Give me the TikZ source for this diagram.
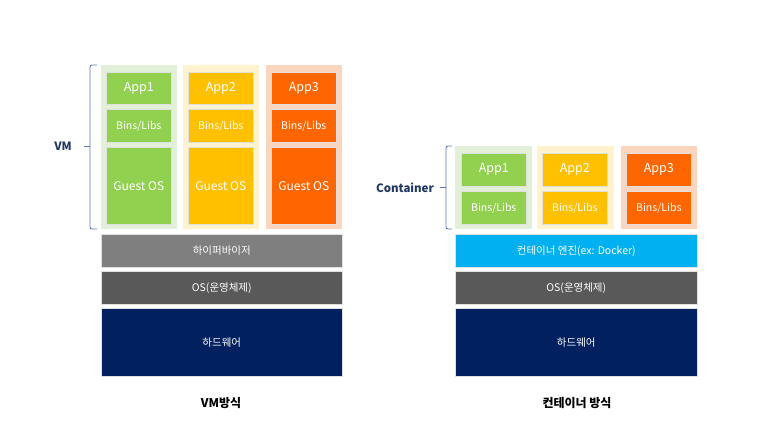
\documentclass[tikz,border=0pt]{standalone}
\usepackage{fontspec}
\setmainfont{Noto Sans CJK KR}
\definecolor{gbg}{HTML}{E2F0D9}
\definecolor{gfg}{HTML}{92D050}
\definecolor{ybg}{HTML}{FFF2CC}
\definecolor{yfg}{HTML}{FFC000}
\definecolor{obg}{HTML}{FBD5BD}
\definecolor{ofg}{HTML}{FF6600}
\definecolor{hyp}{HTML}{7F7F7F}
\definecolor{osc}{HTML}{595959}
\definecolor{hw}{HTML}{002060}
\definecolor{eng}{HTML}{00B0F0}
\definecolor{navy}{HTML}{1F3864}
\definecolor{brc}{HTML}{5B7BB5}
\tikzset{
  blk/.style={draw=white!88!black, line width=0.6pt, text=white, inner sep=0pt, anchor=north west},
  bgbox/.style={inner sep=0pt, anchor=north west},
  apptxt/.style={font=\fontsize{12.5}{14}\selectfont},
  libtxt/.style={font=\fontsize{10.5}{12}\selectfont},
  ostxt/.style={font=\fontsize{12}{14}\selectfont},
  kortxt/.style={font=\fontsize{10.5}{12}\selectfont},
  bracepath/.style={draw=brc, line width=0.9pt, rounded corners=2pt},
  sidelbl/.style={text=navy, font=\bfseries\fontsize{11.5}{13}\selectfont},
  caption/.style={text=black, font=\bfseries\fontsize{12}{14}\selectfont}
}
\newcommand{\bx}[7]{% name, x1, y1, x2, y2, style/colour, text
  \node[#6, minimum width={(#4-#2)*1pt}, minimum height={(#5-#3)*1pt}] (#1) at (#2,#3) {#7};}
\begin{document}
\begin{tikzpicture}[x=1pt,y=-1pt]
\useasboundingbox[fill=white] (0,0) rectangle (768,432);
% ---------------- VM side ----------------
\bx{vbg1}{101}{65}{177}{229}{bgbox,fill=gbg}{}
\bx{vbg2}{183}{65}{259}{229}{bgbox,fill=ybg}{}
\bx{vbg3}{266}{65}{342}{229}{bgbox,fill=obg}{}
\bx{va1}{106}{72}{171}{104}{blk,fill=gfg,apptxt}{App1}
\bx{vb1}{106}{109}{171}{142}{blk,fill=gfg,libtxt}{Bins/Libs}
\bx{vg1}{106}{147}{171}{224}{blk,fill=gfg,ostxt}{Guest OS}
\bx{va2}{188}{72}{253}{104}{blk,fill=yfg,apptxt}{App2}
\bx{vb2}{188}{109}{253}{142}{blk,fill=yfg,libtxt}{Bins/Libs}
\bx{vg2}{188}{147}{253}{224}{blk,fill=yfg,ostxt}{Guest OS}
\bx{va3}{271}{72}{336}{104}{blk,fill=ofg,apptxt}{App3}
\bx{vb3}{271}{109}{336}{142}{blk,fill=ofg,libtxt}{Bins/Libs}
\bx{vg3}{271}{147}{336}{224}{blk,fill=ofg,ostxt}{Guest OS}
\bx{vhyp}{101}{234}{342}{267}{blk,fill=hyp,kortxt}{하이퍼바이저}
\bx{vos}{101}{271}{342}{304}{blk,fill=osc,kortxt}{OS(운영체제)}
\bx{vhw}{101}{308}{342}{376}{blk,fill=hw,kortxt}{하드웨어}
\coordinate (vbt) at (97,65);
\coordinate (vbb) at (97,229);
\coordinate (vbm) at (84,146.5);
\path[bracepath] (vbt) -- (90,65) -- (90,229) -- (vbb);
\path[bracepath,rounded corners=0pt] (90,146.5) -- (vbm);
\node[sidelbl] (vml) at (63,146.5) {VM};
\node[caption] (vcap) at (221,403) {VM방식};
% ---------------- Container side ----------------
\bx{cbg1}{455}{146}{532}{229}{bgbox,fill=gbg}{}
\bx{cbg2}{537}{146}{614}{229}{bgbox,fill=ybg}{}
\bx{cbg3}{621}{146}{697}{229}{bgbox,fill=obg}{}
\bx{ca1}{461}{153}{526}{186}{blk,fill=gfg,apptxt}{App1}
\bx{cb1}{461}{191}{526}{224}{blk,fill=gfg,libtxt}{Bins/Libs}
\bx{ca2}{542}{153}{607}{186}{blk,fill=yfg,apptxt}{App2}
\bx{cb2}{542}{191}{607}{224}{blk,fill=yfg,libtxt}{Bins/Libs}
\bx{ca3}{626}{153}{691}{186}{blk,fill=ofg,apptxt}{App3}
\bx{cb3}{626}{191}{691}{224}{blk,fill=ofg,libtxt}{Bins/Libs}
\bx{ceng}{455}{234}{697}{267}{blk,fill=eng,kortxt}{컨테이너 엔진(ex: Docker)}
\bx{cos}{455}{271}{697}{304}{blk,fill=osc,kortxt}{OS(운영체제)}
\bx{chw}{455}{308}{697}{376}{blk,fill=hw,kortxt}{하드웨어}
\coordinate (cbt) at (452,146);
\coordinate (cbb) at (452,229);
\coordinate (cbm) at (440,187.5);
\path[bracepath] (cbt) -- (446,146) -- (446,229) -- (cbb);
\path[bracepath,rounded corners=0pt] (446,187.5) -- (cbm);
\node[sidelbl] (cml) at (405,187.5) {Container};
\node[caption] (ccap) at (577,403) {컨테이너 방식};
\end{tikzpicture}
\end{document}
